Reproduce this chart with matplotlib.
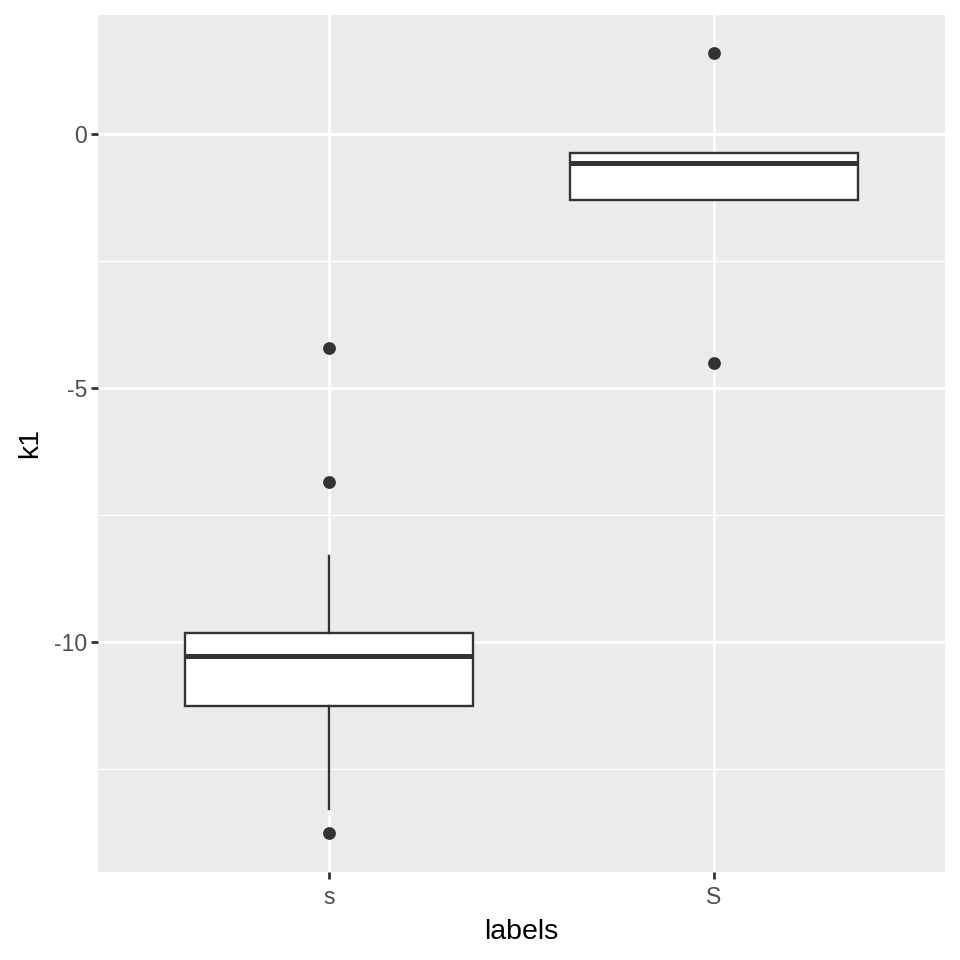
import matplotlib
matplotlib.use("Agg")
import matplotlib.pyplot as plt

plt.rcParams['font.family'] = ['Liberation Sans', 'DejaVu Sans']

categories = ["s", "S"]
q1 = [-11.26, -1.30]
median = [-10.28, -0.57]
q3 = [-9.82, -0.37]
whislo = [-13.29, -1.30]
whishi = [-8.31, -0.37]
outliers = [[-4.21, -6.85, -13.76], [1.59, -4.51]]
y_ticks = [0, -5, -10]
y_tick_labels = ["0", "-5", "-10"]
y_minor = [-2.5, -7.5, -12.5]

fig = plt.figure(figsize=(9.6, 9.6), dpi=100)
ax = fig.add_axes([98/960, 88/960, 847/960, 857/960])
ax.set_facecolor("#EBEBEB")

stats = []
for i, c in enumerate(categories):
    stats.append(dict(label=c, q1=q1[i], med=median[i], q3=q3[i],
                      whislo=whislo[i], whishi=whishi[i], fliers=[]))
pos = list(range(1, len(categories) + 1))
ax.bxp(stats, positions=pos, widths=0.75, patch_artist=True, showcaps=False,
       boxprops=dict(facecolor="white", edgecolor="#333333", linewidth=1.7),
       medianprops=dict(color="#333333", linewidth=3.6, solid_capstyle="butt"),
       whiskerprops=dict(color="#333333", linewidth=1.7),
       zorder=3)
for i, o in enumerate(outliers):
    ax.scatter([pos[i]] * len(o), o, s=85, color="#333333", zorder=4, linewidths=0)

ax.set_xlim(0.4, 2.6)
ax.set_ylim(-14.53, 2.34)
ax.set_xticks(pos)
ax.set_xticklabels(categories)
ax.set_yticks(y_ticks)
ax.set_yticklabels(y_tick_labels)
ax.set_yticks(y_minor, minor=True)

ax.grid(True, which="major", color="white", linewidth=2.0, zorder=0)
ax.grid(True, which="minor", axis="y", color="white", linewidth=1.0, zorder=0)
ax.set_axisbelow(True)
for s in ax.spines.values():
    s.set_visible(False)

ax.tick_params(axis="both", which="major", length=5, width=2.0, color="#333333",
               labelsize=16.5, labelcolor="#4D4D4D", pad=3)
ax.tick_params(axis="x", which="major", pad=5)
ax.tick_params(axis="y", which="minor", length=0)
ax.set_xlabel("labels", fontsize=20.5, labelpad=7)
ax.set_ylabel("k1", fontsize=20.5, labelpad=8)

fig.savefig("out.png", dpi=100, facecolor="white")
